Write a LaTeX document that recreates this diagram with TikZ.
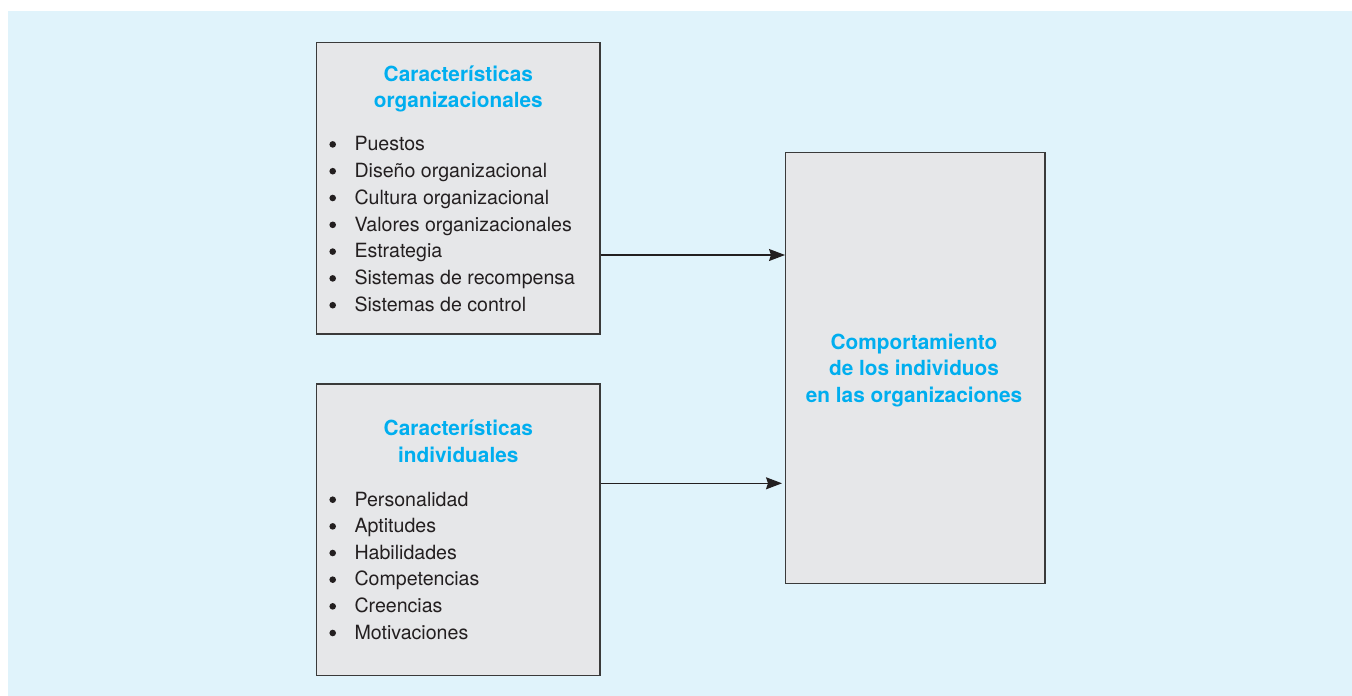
\documentclass[tikz,border=0pt]{standalone}
\usepackage{fontspec}
\setmainfont{TeX Gyre Heros}
\usetikzlibrary{arrows.meta}
\definecolor{bgblue}{HTML}{E0F3FB}
\definecolor{boxgray}{HTML}{E6E7E9}
\definecolor{edgegray}{HTML}{3A3A3A}
\definecolor{titlecyan}{HTML}{00AEEF}
\definecolor{textdark}{HTML}{231F20}
\tikzset{
  panel/.style={draw=edgegray, line width=1.3pt, fill=boxgray, inner sep=0pt},
  ttl/.style={font=\fontsize{20.8}{26.5}\selectfont\bfseries, text=titlecyan, inner sep=0pt, anchor=base},
  item/.style={font=\fontsize{19.6}{26.5}\selectfont, text=textdark, inner sep=0pt, anchor=base west},
  dot/.style={fill=textdark},
  conn/.style={draw=textdark, line width=1.2pt, -{Stealth[length=16pt,width=12pt,inset=2pt]}}
}
\begin{document}
\begin{tikzpicture}[x=1pt,y=-1pt]
\useasboundingbox (0,0) rectangle (1352,696);
\fill[white] (0,0) rectangle (1352,696);
\fill[bgblue] (8,11) rectangle (1352,696);
% boxes
\node[panel, minimum width=283.3pt, minimum height=291.7pt] (org) at (458.3,188.2) {};
\node[panel, minimum width=283.3pt, minimum height=291.7pt] (ind) at (458.3,529.9) {};
\node[panel, minimum width=259.3pt, minimum height=430.6pt] (beh) at (915.3,368.0) {};
% titles
\node[ttl] (t1a) at (458.3,81) {Características};
\node[ttl] (t1b) at (458.3,107) {organizacionales};
\node[ttl] (t2a) at (458.3,435.7) {Características};
\node[ttl] (t2b) at (458.3,462.3) {individuales};
\node[ttl] (t3a) at (914,349.3) {Comportamiento};
\node[ttl] (t3b) at (914,375.6) {de los individuos};
\node[ttl] (t3c) at (914,402) {en las organizaciones};
% lists
\foreach \txt [count=\i from 0] in {Puestos,Diseño organizacional,Cultura organizacional,Valores organizacionales,Estrategia,Sistemas de recompensa,Sistemas de control}{
  \fill[dot] (332.7,144.4+26.8*\i) circle (3.3);
  \node[item] (oi\i) at (354.3,150.7+26.8*\i) {\txt};
}
\foreach \txt [count=\i from 0] in {Personalidad,Aptitudes,Habilidades,Competencias,Creencias,Motivaciones}{
  \fill[dot] (332.7,499.7+26.66*\i) circle (3.3);
  \node[item] (ii\i) at (354.3,506+26.66*\i) {\txt};
}
% connectors
\coordinate (a1s) at (org.east |- 0,255);
\coordinate (a1e) at (beh.west |- 0,255);
\coordinate (a2s) at (ind.east |- 0,483.3);
\coordinate (a2e) at ([xshift=-3pt]beh.west |- 0,483.3);
\draw[conn] (a1s) -- (a1e);
\draw[conn] (a2s) -- (a2e);
\end{tikzpicture}
\end{document}
